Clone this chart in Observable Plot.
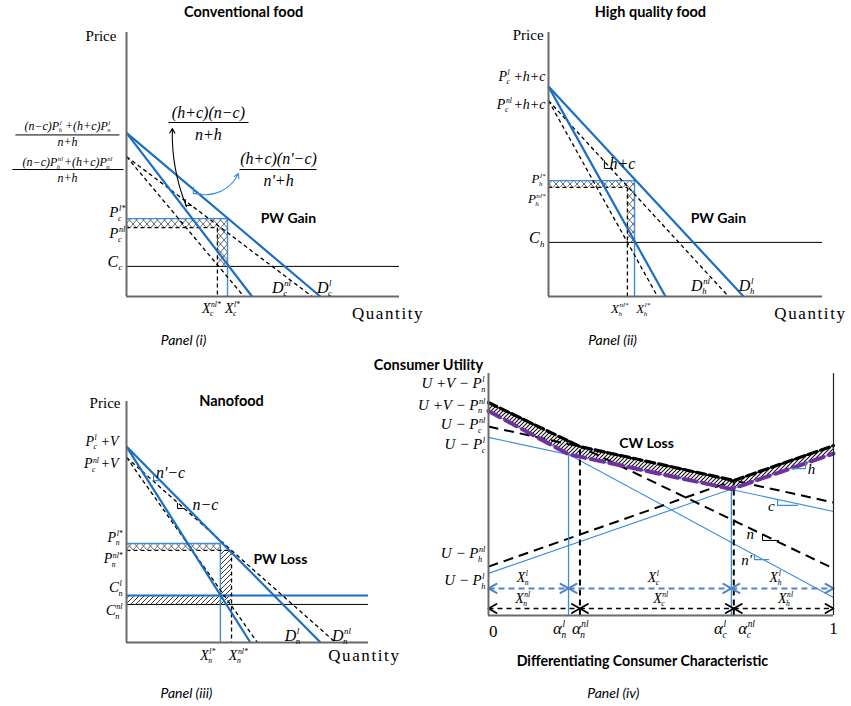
<!DOCTYPE html>
<html><head><meta charset="utf-8">
<script src="https://cdn.jsdelivr.net/npm/d3@7"></script>
<script src="https://cdn.jsdelivr.net/npm/@observablehq/plot@0.6"></script>
<style>
html,body{margin:0;padding:0;background:#fff;}
#root{position:relative;width:851px;height:706px;overflow:hidden;background:#fff;}
</style></head><body>
<svg width="0" height="0" style="position:absolute">
<defs>
<pattern id="xhatch" patternUnits="userSpaceOnUse" width="7" height="8"><path d="M0,0L7,8M0,8L7,0" stroke="#444" stroke-width="0.8" fill="none"/></pattern>
<pattern id="diag" patternUnits="userSpaceOnUse" width="5" height="5"><path d="M0,5L5,0M-1,1L1,-1M4,6L6,4" stroke="#222" stroke-width="0.9" fill="none"/></pattern>
<pattern id="diag2" patternUnits="userSpaceOnUse" width="4" height="4"><path d="M0,4L4,0M-1,1L1,-1M3,5L5,3" stroke="#111" stroke-width="1.1" fill="none"/></pattern>
</defs></svg>
<div id="root"></div>
<script>
// ---------------- DATA ----------------
// Panel (i) Conventional food: demand lines (price intercept p0, quantity intercept q0)
const convLines = [
  {kind:"l", p0:62, q0:71},
  {kind:"l", p0:62, q0:46},
  {kind:"nl", p0:53, q0:68},
  {kind:"nl", p0:53, q0:43}
];
const convEq = {Pl:29.5, Pnl:26.1, Xl:37.0, Xnl:33.3};
const convCosts = [11.4];

// Panel (ii) High quality food
const hqLines = [
  {kind:"l", p0:79.5, q0:71.2},
  {kind:"l", p0:79.5, q0:42.7},
  {kind:"nl", p0:74.2, q0:65.7},
  {kind:"nl", p0:74.2, q0:39.8}
];
const hqEq = {Pl:43.9, Pnl:41.3, Xl:31.4, Xnl:28.8};
const hqCosts = [20.5];

// Panel (iii) Nanofood
const nanoLines = [
  {kind:"l", p0:81.3, q0:80.2},
  {kind:"l", p0:81.3, q0:51.2},
  {kind:"nl", p0:76.8, q0:86.4},
  {kind:"nl", p0:76.8, q0:54.1}
];
const nanoEq = {Pl:41.1, Pnl:38.2, Xl:38.8, Xnl:43.4};
const nanoCostL = 19.5, nanoCostNL = 15.8;

// Panel (iv) Consumer utility lines: value at 0 (u0) and at 1 (u1)
const utilityLines = [
  {good:"n", info:"nl", u0:88.0, u1:19.4},
  {good:"c", info:"nl", u0:78.1, u1:46.7},
  {good:"h", info:"nl", u0:20.2, u1:70.2},
  {good:"n", info:"l", u0:84.5, u1:7.4},
  {good:"c", info:"l", u0:73.6, u1:43.0},
  {good:"h", info:"l", u0:17.4, u1:66.9}
];
const alphaL = [0.232, 0.704];
const alphaNL = [0.265, 0.711];
const rowLevel = {l:11.2, nl:2.9};

// ---------------- LABELS ----------------
const convLabels = [
  {t:"Conventional food", x:42.9, y:107.6, f:"b", s:14.5},
  {t:"Price", x:-3.7, y:98.7, f:"r", s:15, a:"end"},
  {t:"P_{c}^{l*}", x:-0.4, y:31.8, s:15, a:"end"},
  {t:"P_{c}^{nl}", x:-0.4, y:23.8, s:15, a:"end"},
  {t:"C_{c}", x:-1.5, y:13.3, s:16, a:"end"},
  {t:"X_{c}^{nl*}", x:31.1, y:-4.5, s:14},
  {t:"X_{c}^{l*}", x:38.8, y:-4.5, s:14},
  {t:"D_{c}^{nl}", x:56.8, y:3.4, s:16},
  {t:"D_{c}^{l}", x:72.5, y:3.4, s:16},
  {t:"PW Gain", x:59.3, y:29.5, f:"b", s:14},
  {t:"Quantity", x:95.8, y:-6.4, f:"r", s:17},
  {t:"Panel (i)", x:20.9, y:-16.7, f:"i", s:14}
];
const convFracs = [
  {num:"(n−c)P_{h}^{l} +(h+c)P_{n}^{l}", den:"n+h", x:-21.6, yN:64.7, yB:61.2, yD:58.3, x1:-40.7, x2:-2.6, s:12},
  {num:"(n−c)P_{h}^{nl} +(h+c)P_{n}^{nl}", den:"n+h", x:-21.6, yN:51.0, yB:48.1, yD:44.8, x1:-41.8, x2:-1.1, s:12},
  {num:"(h+c)(n−c)", den:"n+h", x:30, yN:69.7, yB:65.9, yD:61.4, x1:15.4, x2:44.7, s:16},
  {num:"(h+c)(n'−c)", den:"n'+h", x:55.7, yN:52.3, yB:48.1, yD:43.9, x1:41.4, x2:69.6, s:16}
];
const convArrows = [
  {x1:22.0, y1:34.0, x2:16.8, y2:63.6, bend:12, k:"nl"},
  {x1:25.5, y1:39.0, x2:41.0, y2:46.6, bend:-40, k:"l"}
];
const convMarkers = [
  {id:"a", k:"nl", pts:[[21.6,36.7],[21.6,34.5],[23.8,34.5]]},
  {id:"b", k:"l", pts:[[24.5,41.3],[24.5,39.0],[27.1,39.0]]}
];

const hqLabels = [
  {t:"High quality food", x:37.2, y:107.6, f:"b", s:14.5},
  {t:"Price", x:-1.8, y:98.9, f:"r", s:15, a:"end"},
  {t:"P_{c}^{l} +h+c", x:-1.1, y:83.4, s:14, a:"end"},
  {t:"P_{c}^{nl} +h+c", x:-1.1, y:72.8, s:14, a:"end"},
  {t:"P_{h}^{l*}", x:-1.1, y:44.6, s:13, a:"end"},
  {t:"P_{h}^{nl*}", x:-1.1, y:37.0, s:13, a:"end"},
  {t:"C_{h}", x:-1.5, y:22.3, s:16, a:"end"},
  {t:"h+c", x:27, y:50.4, s:16},
  {t:"PW Gain", x:62, y:29.5, f:"b", s:14},
  {t:"D_{h}^{nl}", x:55.5, y:4.2, s:16},
  {t:"D_{h}^{l}", x:72.3, y:4.2, s:16},
  {t:"X_{h}^{nl*}", x:26.0, y:-4.5, s:13},
  {t:"X_{h}^{l*}", x:34.6, y:-4.5, s:13},
  {t:"Quantity", x:95.6, y:-6.4, f:"r", s:17},
  {t:"Panel (ii)", x:23.4, y:-16.7, f:"i", s:14}
];
const hqMarkers = [{id:"hc", k:"nl", pts:[[20.4,51.5],[20.4,48.5],[23.4,48.5]]}];

const nanoLabels = [
  {t:"Nanofood", x:43.4, y:100, f:"b", s:14.5},
  {t:"Price", x:-2.5, y:99.2, f:"r", s:15, a:"end"},
  {t:"P_{c}^{l} +V", x:-3.3, y:83.6, s:14, a:"end"},
  {t:"P_{c}^{nl} +V", x:-3.3, y:74.2, s:14, a:"end"},
  {t:"P_{n}^{l*}", x:-1.6, y:43.6, s:14, a:"end"},
  {t:"P_{n}^{nl*}", x:-1.6, y:34.7, s:14, a:"end"},
  {t:"C_{n}^{l}", x:-1.6, y:22.8, s:15, a:"end"},
  {t:"C_{n}^{nl}", x:-1.6, y:13.3, s:15, a:"end"},
  {t:"n'−c", x:18.2, y:70.5, s:16},
  {t:"n−c", x:32.6, y:57.3, s:16},
  {t:"PW Loss", x:63.6, y:34.4, f:"b", s:14},
  {t:"D_{n}^{l}", x:68.6, y:2.9, s:16},
  {t:"D_{n}^{nl}", x:88.8, y:2.9, s:16},
  {t:"X_{n}^{l*}", x:33.6, y:-5.4, s:14},
  {t:"X_{n}^{nl*}", x:46.2, y:-5.4, s:14},
  {t:"Quantity", x:98.3, y:-5.4, f:"r", s:17},
  {t:"Panel (iii)", x:24.8, y:-21.2, f:"i", s:14}
];
const nanoMarkers = [
  {id:"n1", k:"l", pts:[[11.2,69.3],[11.2,67.2],[13.6,67.2]]},
  {id:"n2", k:"nl", pts:[[21.1,57.7],[21.1,55.6],[23.6,55.6]]}
];

const utilLabels = [
  {t:"Consumer Utility", x:-0.174, y:103.3, f:"b", s:14.5},
  {t:"U +V − P_{n}^{l}", x:-0.009, y:96.0, s:15, a:"end"},
  {t:"U +V − P_{n}^{nl}", x:-0.009, y:87.0, s:15, a:"end"},
  {t:"U − P_{c}^{nl}", x:-0.009, y:78.9, s:15, a:"end"},
  {t:"U − P_{c}^{l}", x:-0.009, y:70.8, s:15, a:"end"},
  {t:"U − P_{h}^{nl}", x:-0.009, y:25.6, s:15, a:"end"},
  {t:"U − P_{h}^{l}", x:-0.009, y:14.5, s:15, a:"end"},
  {t:"CW Loss", x:0.458, y:71.1, f:"b", s:14},
  {t:"h", x:0.936, y:60.3, s:15},
  {t:"c", x:0.82, y:45, s:15},
  {t:"n", x:0.759, y:33.5, s:15},
  {t:"n'", x:0.748, y:22.7, s:15},
  {t:"X_{n}^{l}", x:0.099, y:15.7, s:14},
  {t:"X_{c}^{l}", x:0.478, y:15.7, s:14},
  {t:"X_{h}^{l}", x:0.832, y:15.7, s:14},
  {t:"X_{n}^{nl}", x:0.099, y:7.0, s:14},
  {t:"X_{c}^{nl}", x:0.499, y:7.0, s:14},
  {t:"X_{h}^{nl}", x:0.861, y:7.0, s:14},
  {t:"0", x:0.014, y:-6.6, f:"r", s:17},
  {t:"1", x:1.0, y:-5.5, f:"r", s:17},
  {t:"α_{n}^{l}", x:0.206, y:-5.4, s:17},
  {t:"α_{n}^{nl}", x:0.266, y:-5.4, s:17},
  {t:"α_{c}^{l}", x:0.672, y:-5.4, s:17},
  {t:"α_{c}^{nl}", x:0.748, y:-5.4, s:17},
  {t:"Differentiating Consumer Characteristic", x:0.446, y:-19, f:"b", s:14.2},
  {t:"Panel (iv)", x:0.362, y:-32.2, f:"i", s:14}
];
const utilMarkers = [
  {id:"h", k:"l", pts:[[0.878,60.7],[0.919,60.7],[0.919,63.2]]},
  {id:"c", k:"l", pts:[[0.838,47.9],[0.838,45.5],[0.896,45.5]]},
  {id:"n", k:"nl", pts:[[0.794,33.5],[0.794,31.0],[0.841,31.0]]},
  {id:"n'", k:"l", pts:[[0.771,25.2],[0.771,23.1],[0.812,23.1]]}
];

// ---------------- STYLE ----------------
const BLUE = "#1b6ec2", BLUE_THIN = "#3d8ddb", ARROW_BLUE = "#4f84c8", PURPLE = "#7030a0", GREY = "#6a6a6a";
const SERIF = "'Liberation Serif', 'Times New Roman', serif";
const SANS = "Lato, 'Open Sans', sans-serif";
const NS = "http://www.w3.org/2000/svg";
const root = document.getElementById("root");

function labelMarks(labels) {
  const fonts = {
    m: {fontFamily: SERIF, fontStyle: "italic"},
    r: {fontFamily: SERIF},
    b: {fontFamily: SANS, fontWeight: "bold"},
    i: {fontFamily: SANS, fontStyle: "italic"}
  };
  const marks = [];
  for (const f of Object.keys(fonts)) for (const a of ["start", "middle", "end"]) {
    const sub = labels.filter(d => (d.f || "m") === f && (d.a || "middle") === a);
    if (sub.length) marks.push(Plot.text(sub, {x: "x", y: "y", text: "t", textAnchor: a, fontSize: d => d.s || 15, ...fonts[f]}));
  }
  return marks;
}
function fracMarks(fracs) {
  return [
    Plot.text(fracs, {x: "x", y: "yN", text: "num", fontSize: d => d.s, fontFamily: SERIF, fontStyle: "italic"}),
    Plot.text(fracs, {x: "x", y: "yD", text: "den", fontSize: d => d.s, fontFamily: SERIF, fontStyle: "italic"}),
    Plot.link(fracs, {x1: "x1", x2: "x2", y1: "yB", y2: "yB", stroke: "#000", strokeWidth: 1})
  ];
}
function markerMarks(markers) {
  const pts = markers.flatMap(m => m.pts.map(([x, y]) => ({id: m.id, k: m.k, x, y})));
  return [
    Plot.line(pts.filter(d => d.k === "l"), {x: "x", y: "y", z: "id", stroke: BLUE_THIN, strokeWidth: 1.2}),
    Plot.line(pts.filter(d => d.k === "nl"), {x: "x", y: "y", z: "id", stroke: "#000", strokeWidth: 1})
  ];
}

function demandPanel({lines, eq, costLines, hatch, labels, fracs = [], arrows = [], markers = []}) {
  const eqSegs = [
    {x1: 0, y1: eq.Pl, x2: eq.Xl, y2: eq.Pl, k: "l"},
    {x1: eq.Xl, y1: eq.Pl, x2: eq.Xl, y2: 0, k: "l"},
    {x1: 0, y1: eq.Pnl, x2: eq.Xnl, y2: eq.Pnl, k: "nl"},
    {x1: eq.Xnl, y1: eq.Pnl, x2: eq.Xnl, y2: 0, k: "nl"}
  ];
  return [
    Plot.rect(hatch.filter(d => d.p === "x"), {x1: "x1", x2: "x2", y1: "y1", y2: "y2", fill: "url(#xhatch)"}),
    Plot.rect(hatch.filter(d => d.p === "d"), {x1: "x1", x2: "x2", y1: "y1", y2: "y2", fill: "url(#diag)"}),
    ...costLines,
    Plot.link(eqSegs.filter(d => d.k === "l"), {x1: "x1", y1: "y1", x2: "x2", y2: "y2", stroke: BLUE_THIN, strokeWidth: 1.4}),
    Plot.link(eqSegs.filter(d => d.k === "nl"), {x1: "x1", y1: "y1", x2: "x2", y2: "y2", stroke: "#000", strokeWidth: 1.3, strokeDasharray: "4,3"}),
    Plot.link(lines.filter(d => d.kind === "nl"), {x1: 0, y1: "p0", x2: "q0", y2: 0, stroke: "#000", strokeWidth: 1.3, strokeDasharray: "4,3"}),
    Plot.link(lines.filter(d => d.kind === "l"), {x1: 0, y1: "p0", x2: "q0", y2: 0, stroke: BLUE, strokeWidth: 2.2}),
    Plot.ruleX([0], {y1: 0, y2: 100, stroke: GREY, strokeWidth: 2}),
    Plot.ruleY([0], {x1: 0, x2: 100, stroke: GREY, strokeWidth: 2}),
    ...arrows.map(a => Plot.arrow([a], {x1: "x1", y1: "y1", x2: "x2", y2: "y2", bend: a.bend, headLength: 7, stroke: a.k === "l" ? BLUE_THIN : "#000", strokeWidth: 1.1})),
    ...markerMarks(markers),
    ...fracMarks(fracs),
    ...labelMarks(labels)
  ];
}

function place(svg, left, top) {
  svg.style.position = "absolute";
  svg.style.left = left + "px";
  svg.style.top = top + "px";
  svg.style.overflow = "visible";
  svg.style.background = "transparent";
  svg.style.maxWidth = "none";
  root.appendChild(svg);
}

// ---------------- PANEL (i) ----------------
place(Plot.plot({
  width: 430, height: 350, marginLeft: 126, marginRight: 31, marginTop: 32, marginBottom: 54,
  x: {domain: [0, 100], axis: null}, y: {domain: [0, 100], axis: null},
  marks: demandPanel({
    lines: convLines, eq: convEq,
    costLines: [Plot.ruleY(convCosts, {x1: 0, x2: 100, stroke: "#000", strokeWidth: 1})],
    hatch: [
      {x1: 0, x2: convEq.Xl, y1: convEq.Pnl, y2: convEq.Pl, p: "x"},
      {x1: convEq.Xnl, x2: convEq.Xl, y1: convCosts[0], y2: convEq.Pnl, p: "x"}
    ],
    labels: convLabels, fracs: convFracs, arrows: convArrows, markers: convMarkers
  })
}), 0, 0);

// ---------------- PANEL (ii) ----------------
place(Plot.plot({
  width: 421, height: 350, marginLeft: 118, marginRight: 29, marginTop: 32, marginBottom: 54,
  x: {domain: [0, 100], axis: null}, y: {domain: [0, 100], axis: null},
  marks: demandPanel({
    lines: hqLines, eq: hqEq,
    costLines: [Plot.ruleY(hqCosts, {x1: 0, x2: 100, stroke: "#000", strokeWidth: 1})],
    hatch: [
      {x1: 0, x2: hqEq.Xl, y1: hqEq.Pnl, y2: hqEq.Pl, p: "x"},
      {x1: hqEq.Xnl, x2: hqEq.Xl, y1: hqCosts[0], y2: hqEq.Pnl, p: "x"}
    ],
    labels: hqLabels, markers: hqMarkers
  })
}), 430, 0);

// ---------------- PANEL (iii) ----------------
place(Plot.plot({
  width: 420, height: 356, marginLeft: 126, marginRight: 52, marginTop: 51, marginBottom: 64,
  x: {domain: [0, 100], axis: null}, y: {domain: [0, 100], axis: null},
  marks: demandPanel({
    lines: nanoLines, eq: nanoEq,
    costLines: [
      Plot.ruleY([nanoCostNL], {x1: 0, x2: 100, stroke: "#000", strokeWidth: 1}),
      Plot.ruleY([nanoCostL], {x1: 0, x2: 100, stroke: BLUE, strokeWidth: 2})
    ],
    hatch: [
      {x1: 0, x2: nanoEq.Xl, y1: nanoEq.Pnl, y2: nanoEq.Pl, p: "x"},
      {x1: nanoEq.Xl, x2: nanoEq.Xnl, y1: nanoCostNL, y2: nanoEq.Pnl, p: "d"},
      {x1: 0, x2: nanoEq.Xl, y1: nanoCostNL, y2: nanoCostL, p: "d"}
    ],
    labels: nanoLabels, markers: nanoMarkers
  })
}), 0, 350);

// ---------------- PANEL (iv) ----------------
const P4 = {width: 471, height: 356, ml: 108, mr: 18, mt: 23, mb: 91};
const pxPerX = (P4.width - P4.ml - P4.mr) / 1, pxPerY = (P4.height - P4.mt - P4.mb) / 100;
const uAt = (ln, x) => ln.u0 + (ln.u1 - ln.u0) * x;
const env = (info, x) => d3.max(utilityLines.filter(l => l.info === info), l => uAt(l, x));
const envL = [0, ...alphaL, 1].map(x => ({x, u: env("l", x)}));
const envNL = [0, ...alphaNL, 1].map(x => ({x, u: env("nl", x)}));
const gap = [0, ...alphaL, ...alphaNL, 1].sort(d3.ascending).map(x => ({x, lo: env("l", x), hi: env("nl", x)}));
const alphaRules = [
  ...alphaL.map(x => ({x, top: env("l", x), k: "l"})),
  ...alphaNL.map(x => ({x, top: env("nl", x), k: "nl"}))
];
const segs = [];
for (const k of ["l", "nl"]) {
  const b = [0, ...(k === "l" ? alphaL : alphaNL), 1];
  for (let i = 0; i < b.length - 1; i++) segs.push({k, x1: b[i], x2: b[i + 1], y: rowLevel[k]});
}
const hx = 8 / pxPerX, hy = 4.5 / pxPerY;
const heads = segs.flatMap((s, i) => [
  {id: i + "L", k: s.k, x: s.x1 + hx, y: s.y + hy}, {id: i + "L", k: s.k, x: s.x1, y: s.y}, {id: i + "L", k: s.k, x: s.x1 + hx, y: s.y - hy},
  {id: i + "R", k: s.k, x: s.x2 - hx, y: s.y + hy}, {id: i + "R", k: s.k, x: s.x2, y: s.y}, {id: i + "R", k: s.k, x: s.x2 - hx, y: s.y - hy}
]);

place(Plot.plot({
  width: P4.width, height: P4.height, marginLeft: P4.ml, marginRight: P4.mr, marginTop: P4.mt, marginBottom: P4.mb,
  x: {domain: [0, 1], axis: null}, y: {domain: [0, 100], axis: null},
  marks: [
    Plot.areaY(gap, {x: "x", y1: "lo", y2: "hi", fill: "url(#diag2)"}),
    Plot.link(utilityLines.filter(d => d.info === "l"), {x1: 0, y1: "u0", x2: 1, y2: "u1", stroke: BLUE_THIN, strokeWidth: 1.1}),
    Plot.link(utilityLines.filter(d => d.info === "nl"), {x1: 0, y1: "u0", x2: 1, y2: "u1", stroke: "#000", strokeWidth: 2, strokeDasharray: "10,6"}),
    Plot.link(alphaRules.filter(d => d.k === "l"), {x1: "x", x2: "x", y1: 0, y2: "top", stroke: BLUE_THIN, strokeWidth: 1.3}),
    Plot.link(alphaRules.filter(d => d.k === "nl"), {x1: "x", x2: "x", y1: 0, y2: "top", stroke: "#000", strokeWidth: 2, strokeDasharray: "6,4"}),
    Plot.line(envNL, {x: "x", y: "u", stroke: "#000", strokeWidth: 3.2, strokeDasharray: "9,4"}),
    Plot.line(envL, {x: "x", y: "u", stroke: PURPLE, strokeWidth: 4, strokeDasharray: "13,6"}),
    Plot.link(segs.filter(d => d.k === "l"), {x1: "x1", x2: "x2", y1: "y", y2: "y", stroke: ARROW_BLUE, strokeWidth: 2, strokeDasharray: "6,4"}),
    Plot.link(segs.filter(d => d.k === "nl"), {x1: "x1", x2: "x2", y1: "y", y2: "y", stroke: "#000", strokeWidth: 1.6, strokeDasharray: "5,4"}),
    Plot.line(heads.filter(d => d.k === "l"), {x: "x", y: "y", z: "id", stroke: ARROW_BLUE, strokeWidth: 2}),
    Plot.line(heads.filter(d => d.k === "nl"), {x: "x", y: "y", z: "id", stroke: "#000", strokeWidth: 1.8}),
    Plot.ruleX([0], {y1: 0, y2: 100, stroke: GREY, strokeWidth: 2}),
    Plot.ruleX([1], {y1: 0, y2: 100, stroke: "#222", strokeWidth: 1.2}),
    Plot.ruleY([0], {x1: 0, x2: 1, stroke: GREY, strokeWidth: 2}),
    ...markerMarks(utilMarkers),
    ...labelMarks(utilLabels)
  ]
}), 380, 350);

// ---------------- rich text (sub/superscripts) ----------------
function parseRich(s) {
  const out = []; let buf = ""; let i = 0;
  while (i < s.length) {
    const c = s[i];
    if ((c === "_" || c === "^") && s[i + 1] === "{") {
      const j = s.indexOf("}", i);
      const content = s.slice(i + 2, j);
      if (buf) { out.push({base: buf}); buf = ""; }
      const last = out[out.length - 1];
      const key = c === "_" ? "sub" : "sup";
      if (last && last.base == null && last[key] == null) last[key] = content;
      else out.push({[key]: content});
      i = j + 1;
    } else { buf += c; i++; }
  }
  if (buf) out.push({base: buf});
  return out;
}
function richify(el) {
  const raw = el.textContent;
  if (raw === "Quantity") el.setAttribute("letter-spacing", "1.6");
  if (!/[_^]\{/.test(raw)) return;
  const fs = parseFloat(getComputedStyle(el).fontSize) || 15;
  const small = fs * 0.55, up = fs * 0.4, down = fs * 0.24;
  while (el.firstChild) el.removeChild(el.firstChild);
  let level = 0, pendingDx = 0;
  const add = (str, size, target, dx) => {
    const ts = document.createElementNS(NS, "tspan");
    const dy = target - level;
    if (dy) ts.setAttribute("dy", dy.toFixed(2));
    const tdx = (dx || 0) + pendingDx; pendingDx = 0;
    if (tdx) ts.setAttribute("dx", tdx.toFixed(2));
    if (size) ts.setAttribute("font-size", size.toFixed(2));
    ts.textContent = str;
    el.appendChild(ts);
    level = target;
    return ts;
  };
  for (const tok of parseRich(raw)) {
    if (tok.base != null) { add(tok.base, null, 0, 0); continue; }
    let wSup = 0, wSub = 0;
    if (tok.sup != null) wSup = add(tok.sup, small, -up, 0.5).getComputedTextLength();
    if (tok.sub != null) wSub = add(tok.sub, small, down, tok.sup != null ? -wSup - 1 : 0.3).getComputedTextLength();
    if (tok.sup != null && tok.sub != null && wSup > wSub + 1) pendingDx = wSup - wSub - 1;
  }
}
root.querySelectorAll("text").forEach(richify);
</script>
</body></html>
